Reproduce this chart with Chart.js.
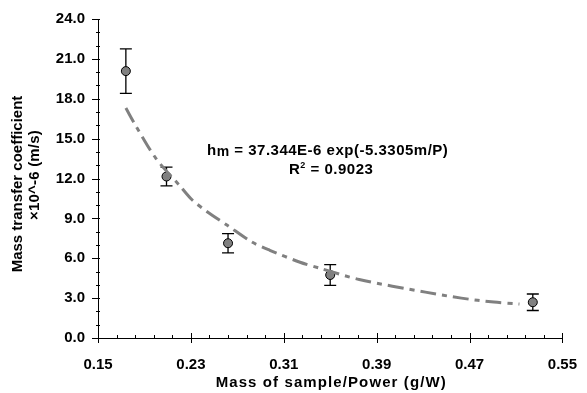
<!DOCTYPE html>
<html>
<head>
<meta charset="utf-8">
<script src="https://cdn.jsdelivr.net/npm/chart.js@4.4.1/dist/chart.umd.min.js"></script>
<style>
  html, body { margin: 0; padding: 0; background: #fff; }
  #wrap { width: 587px; height: 393px; }
</style>
</head>
<body>
<div id="wrap"><canvas id="myChart" width="587" height="393"></canvas></div>
<script>
'use strict';

//--------------------DATA
let massPower = [0.174, 0.209, 0.262, 0.350, 0.5245];
let coefValues = [20.08, 12.15, 7.13, 4.74, 2.69];
let coefErrors = [1.67, 0.70, 0.72, 0.78, 0.62];

// fitted curve
let trendX = [0.174, 0.183, 0.200, 0.221, 0.231, 0.244, 0.261, 0.282, 0.298, 0.324, 0.341, 0.375, 0.432, 0.463, 0.491, 0.513];
let trendY = [17.3, 15.9, 13.5, 11.4, 10.4, 9.5, 8.5, 7.25, 6.6, 5.7, 5.25, 4.4, 3.45, 3.0, 2.7, 2.56];

let xTicks = [0.15, 0.23, 0.31, 0.39, 0.47, 0.55];
let yTicks = [0, 3, 6, 9, 12, 15, 18, 21, 24];
let xMinorStep = 0.016;
let yMinorStep = 1;

let xTitle = 'Mass of sample/Power (g/W)';
let yTitle = ['Mass transfer coefficient', '\u00d710^-6 (m/s)'];
let fitLabel = ' = 37.344E-6 exp(-5.3305m/P)';
let r2Label = ' = 0.9023';

//--------------------HELPERS
function toPoints(xs, ys) {
  let pts = [];
  for (let i = 0; i < xs.length; i++) {
    pts.push({ x: xs[i], y: ys[i] });
  }
  return pts;
}

const FONT = 'Liberation Sans, Arial, Helvetica, sans-serif';

function spacing(ctx, px) {
  if ('letterSpacing' in ctx) ctx.letterSpacing = px + 'px';
}

//--------------------PLUGINS
// error bars, drawn under the markers
let errorBars = {
  id: 'errorBars',
  beforeDatasetsDraw(chart) {
    let ctx = chart.ctx;
    let xs = chart.scales.x;
    let ys = chart.scales.y;
    ctx.save();
    ctx.strokeStyle = '#000';
    ctx.lineWidth = 1.3;
    for (let i = 0; i < massPower.length; i++) {
      let px = xs.getPixelForValue(massPower[i]);
      let top = ys.getPixelForValue(coefValues[i] + coefErrors[i]);
      let bot = ys.getPixelForValue(coefValues[i] - coefErrors[i]);
      ctx.beginPath();
      ctx.moveTo(px, top);
      ctx.lineTo(px, bot);
      ctx.moveTo(px - 6, top);
      ctx.lineTo(px + 6, top);
      ctx.moveTo(px - 6, bot);
      ctx.lineTo(px + 6, bot);
      ctx.stroke();
    }
    ctx.restore();
  }
};

// major and minor tick marks
let tickMarks = {
  id: 'tickMarks',
  afterDraw(chart) {
    let ctx = chart.ctx;
    let xs = chart.scales.x;
    let ys = chart.scales.y;
    let area = chart.chartArea;
    ctx.save();
    ctx.strokeStyle = '#000';
    ctx.lineWidth = 1;
    ctx.beginPath();
    for (let v = xTicks[0]; v <= xTicks[xTicks.length - 1] + 1e-9; v += xMinorStep) {
      let px = Math.round(xs.getPixelForValue(v)) + 0.5;
      ctx.moveTo(px, area.bottom);
      ctx.lineTo(px, area.bottom - 3);
    }
    for (let i = 0; i < xTicks.length; i++) {
      let px = Math.round(xs.getPixelForValue(xTicks[i])) + 0.5;
      ctx.moveTo(px, area.bottom - 5);
      ctx.lineTo(px, area.bottom + 5);
    }
    for (let v = yTicks[0]; v <= yTicks[yTicks.length - 1] + 1e-9; v += yMinorStep) {
      let py = Math.round(ys.getPixelForValue(v)) + 0.5;
      ctx.moveTo(area.left - 2, py);
      ctx.lineTo(area.left + 2, py);
    }
    for (let i = 0; i < yTicks.length; i++) {
      let py = Math.round(ys.getPixelForValue(yTicks[i])) + 0.5;
      ctx.moveTo(area.left - 6, py);
      ctx.lineTo(area.left + 1, py);
    }
    ctx.stroke();
    ctx.restore();
  }
};

// axis titles and fit equation
let chartText = {
  id: 'chartText',
  afterDraw(chart) {
    let ctx = chart.ctx;
    let area = chart.chartArea;
    ctx.save();
    ctx.fillStyle = '#000';

    // x title
    ctx.font = 'bold 15px ' + FONT;
    ctx.textAlign = 'center';
    ctx.textBaseline = 'middle';
    spacing(ctx, 1.1);
    ctx.fillText(xTitle, (area.left + area.right) / 2 + 1, 383);

    // y title (two lines)
    ctx.save();
    ctx.translate(18, 184);
    ctx.rotate(-Math.PI / 2);
    spacing(ctx, 0);
    ctx.fillText(yTitle[0], 0, 0);
    ctx.restore();
    ctx.save();
    ctx.translate(35, 175);
    ctx.rotate(-Math.PI / 2);
    spacing(ctx, 0.2);
    ctx.fillText(yTitle[1], 0, 0);
    ctx.restore();

    // fit equation
    ctx.textBaseline = 'alphabetic';
    ctx.textAlign = 'left';
    spacing(ctx, 0.5);
    ctx.font = 'bold 15px ' + FONT;
    let x = 207;
    let y = 155;
    ctx.fillText('h', x, y);
    x += ctx.measureText('h').width;
    ctx.font = 'bold 14px ' + FONT;
    ctx.fillText('m', x, y + 1);
    x += ctx.measureText('m').width;
    ctx.font = 'bold 15px ' + FONT;
    ctx.fillText(fitLabel, x, y);

    x = 289;
    y = 174;
    ctx.fillText('R', x, y);
    x += ctx.measureText('R').width;
    ctx.font = 'bold 9px ' + FONT;
    ctx.fillText('2', x, y - 6);
    x += ctx.measureText('2').width;
    ctx.font = 'bold 15px ' + FONT;
    ctx.fillText(r2Label, x, y);
    ctx.restore();
  }
};

//--------------------CHART
let canvasElem = document.getElementById('myChart');

let myObj = {
  type: 'scatter',
  data: {
    datasets: [
      {
        label: 'fit',
        type: 'line',
        data: toPoints(trendX, trendY),
        showLine: true,
        borderColor: '#808080',
        borderWidth: 3,
        borderDash: [16, 6, 5, 6],
        pointRadius: 0,
        tension: 0.3,
        fill: false,
        order: 0,
      },
      {
        label: 'measured',
        data: toPoints(massPower, coefValues),
        backgroundColor: '#808080',
        borderColor: '#000',
        borderWidth: 1,
        pointRadius: 4.5,
        order: 1,
      },
    ],
  },
  options: {
    responsive: false,
    animation: false,
    layout: { padding: { left: 0, right: 18, top: 19, bottom: 0 } },
    plugins: {
      legend: { display: false },
      tooltip: { enabled: false },
    },
    scales: {
      x: {
        type: 'linear',
        min: 0.15,
        max: 0.55,
        afterBuildTicks(scale) {
          scale.ticks = xTicks.map(v => ({ value: v }));
        },
        afterFit(scale) {
          scale.height = 55;
        },
        grid: { display: false, drawTicks: true, tickLength: 8 },
        border: { display: true, color: '#000', width: 1 },
        ticks: {
          color: '#000',
          padding: 10,
          maxRotation: 0,
          font: { family: FONT, size: 15, weight: 'bold' },
          callback: v => v.toFixed(2),
        },
      },
      y: {
        type: 'linear',
        min: 0,
        max: 24,
        afterBuildTicks(scale) {
          scale.ticks = yTicks.map(v => ({ value: v }));
        },
        afterFit(scale) {
          scale.width = 98;
        },
        grid: { display: false, drawTicks: true, tickLength: 8 },
        border: { display: true, color: '#000', width: 1 },
        ticks: {
          color: '#000',
          padding: 5,
          font: { family: FONT, size: 15, weight: 'bold' },
          callback: v => v.toFixed(1),
        },
      },
    },
  },
  plugins: [errorBars, tickMarks, chartText],
};

new Chart(canvasElem, myObj);
</script>
</body>
</html>
